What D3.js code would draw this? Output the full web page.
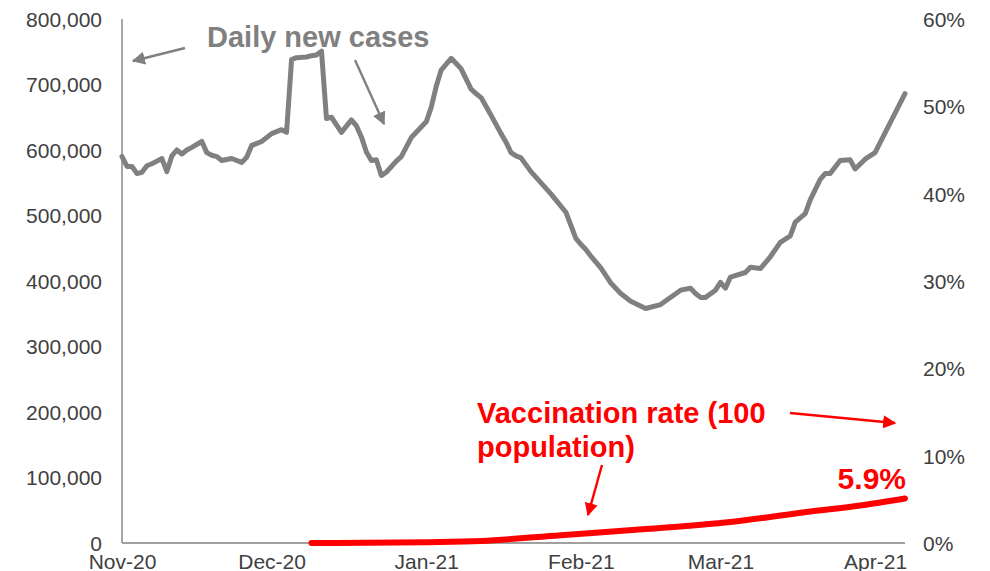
<!DOCTYPE html>
<html lang="en">
<head>
<meta charset="UTF-8">
<title>Daily new cases vs vaccination rate</title>
<style>
    body { margin: 0; background: #fff; }
    svg { display: block; font-family: "Liberation Sans", Arial, sans-serif; }
    .tick-label { font-size: 21px; fill: #404040; }
    .axis-line { stroke: #808080; stroke-width: 1.4px; }
</style>
</head>
<body>
<div id="chart"></div>
<script src="https://d3js.org/d3.v7.min.js"></script>
<script>
// daily new cases (world)
const caseDates = [
    "2020-11-01", "2020-11-02", "2020-11-03", "2020-11-04", "2020-11-05", "2020-11-06", "2020-11-07",
    "2020-11-08", "2020-11-09", "2020-11-10", "2020-11-11", "2020-11-12", "2020-11-13", "2020-11-14",
    "2020-11-15", "2020-11-17", "2020-11-18", "2020-11-19", "2020-11-20", "2020-11-21", "2020-11-23",
    "2020-11-25", "2020-11-26", "2020-11-27", "2020-11-29", "2020-12-01", "2020-12-03", "2020-12-04",
    "2020-12-05", "2020-12-06", "2020-12-08", "2020-12-09", "2020-12-10", "2020-12-11", "2020-12-12",
    "2020-12-13", "2020-12-15", "2020-12-17", "2020-12-18", "2020-12-19", "2020-12-20", "2020-12-21",
    "2020-12-22", "2020-12-23", "2020-12-24", "2020-12-26", "2020-12-27", "2020-12-29", "2020-12-31",
    "2021-01-01", "2021-01-02", "2021-01-03", "2021-01-04", "2021-01-06", "2021-01-08", "2021-01-10",
    "2021-01-11", "2021-01-12", "2021-01-14", "2021-01-16", "2021-01-17", "2021-01-18", "2021-01-19",
    "2021-01-20", "2021-01-22", "2021-01-26", "2021-01-29", "2021-01-31", "2021-02-01", "2021-02-02",
    "2021-02-03", "2021-02-05", "2021-02-07", "2021-02-09", "2021-02-11", "2021-02-14", "2021-02-17",
    "2021-02-21", "2021-02-23", "2021-02-24", "2021-02-25", "2021-02-26", "2021-02-28", "2021-03-01",
    "2021-03-02", "2021-03-03", "2021-03-06", "2021-03-07", "2021-03-09", "2021-03-11", "2021-03-13",
    "2021-03-15", "2021-03-16", "2021-03-18", "2021-03-19", "2021-03-21", "2021-03-22", "2021-03-23",
    "2021-03-25", "2021-03-27", "2021-03-28", "2021-03-30", "2021-04-01", "2021-04-03", "2021-04-07"
];
const caseValues = [
    590000, 575000, 575000, 564000, 566000, 576000, 579000,
    583000, 587000, 567000, 591000, 600000, 594000, 600000,
    604000, 613000, 596000, 592000, 590000, 584000, 587000,
    581000, 589000, 607000, 613000, 625000, 631000, 627000,
    738000, 741000, 742000, 744000, 745000, 751000, 648000,
    650000, 627000, 646000, 637000, 620000, 597000, 584000,
    585000, 561000, 566000, 583000, 590000, 619000, 635000,
    643000, 665000, 697000, 722000, 740000, 724000, 693000,
    686000, 680000, 653000, 625000, 612000, 596000, 591000,
    588000, 567000, 533000, 505000, 465000, 456000, 448000,
    438000, 420000, 397000, 381000, 369000, 358000, 364000,
    386000, 389000, 381000, 375000, 375000, 386000, 398000,
    389000, 406000, 413000, 421000, 419000, 437000, 459000,
    469000, 490000, 503000, 524000, 555000, 564000, 564000,
    584000, 585000, 571000, 586000, 596000, 626000, 686000
];

// vaccination rate, % of population
const vaccDates = ["2020-12-09", "2020-12-20", "2021-01-01", "2021-01-12", "2021-01-28",
    "2021-02-14", "2021-03-03", "2021-03-19", "2021-03-29", "2021-04-07"];
const vaccValues = [0, 0.0003, 0.001, 0.0023, 0.009, 0.016, 0.024, 0.036, 0.043, 0.051];

const leftTicks = [0, 100000, 200000, 300000, 400000, 500000, 600000, 700000, 800000];
const rightTicks = [0, 0.1, 0.2, 0.3, 0.4, 0.5, 0.6];
const monthTicks = ["2020-11-01", "2020-12-01", "2021-01-01", "2021-02-01", "2021-03-01", "2021-04-01"];

const parse = d3.timeParse("%Y-%m-%d");
const width = 990, height = 571;

const svg = d3.select("#chart").append("svg")
    .attr("width", width)
    .attr("height", height);

const x = d3.scaleTime()
    .domain([parse("2020-11-01"), parse("2021-04-07")])
    .range([122, 905]);
const yLeft = d3.scaleLinear().domain([0, 800000]).range([543, 19]);
const yRight = d3.scaleLinear().domain([0, 0.6]).range([543, 19]);

// axes
const leftAxis = d3.axisLeft(yLeft).tickValues(leftTicks).tickSize(0).tickPadding(20)
    .tickFormat(d3.format(","));
const gl = svg.append("g").attr("transform", "translate(122,0)").call(leftAxis);
gl.select(".domain").remove();
gl.selectAll("text").attr("class", "tick-label").attr("dy", "0.35em");

const rightAxis = d3.axisRight(yRight).tickValues(rightTicks).tickSize(0).tickPadding(18)
    .tickFormat(d3.format(".0%"));
const gr = svg.append("g").attr("transform", "translate(905,0)").call(rightAxis);
gr.select(".domain").remove();
gr.selectAll("text").attr("class", "tick-label").attr("dy", "0.35em");

const bottomAxis = d3.axisBottom(x).tickValues(monthTicks.map(parse)).tickSize(0).tickPadding(9)
    .tickFormat(d3.timeFormat("%b-%y"));
const gb = svg.append("g").attr("transform", "translate(0,543)").call(bottomAxis);
gb.select(".domain").remove();
gb.selectAll("text").attr("class", "tick-label").attr("dy", "0.8em");

svg.append("line").attr("class", "axis-line")
    .attr("x1", 122).attr("x2", 122).attr("y1", 19).attr("y2", 543);
svg.append("line").attr("class", "axis-line")
    .attr("x1", 122).attr("x2", 905).attr("y1", 543).attr("y2", 543);

// series
const cases = caseDates.map((d, i) => ({ date: parse(d), value: caseValues[i] }));
const vacc = vaccDates.map((d, i) => ({ date: parse(d), value: vaccValues[i] }));

svg.append("path")
    .datum(cases)
    .attr("fill", "none")
    .attr("stroke", "#808080")
    .attr("stroke-width", 5)
    .attr("stroke-linejoin", "round")
    .attr("stroke-linecap", "round")
    .attr("d", d3.line().x(d => x(d.date)).y(d => yLeft(d.value)));

svg.append("path")
    .datum(vacc)
    .attr("fill", "none")
    .attr("stroke", "#ff0000")
    .attr("stroke-width", 6)
    .attr("stroke-linecap", "round")
    .attr("d", d3.line().curve(d3.curveMonotoneX).x(d => x(d.date)).y(d => yRight(d.value)));

// annotations
const defs = svg.append("defs");
function marker(id, color) {
    defs.append("marker")
        .attr("id", id)
        .attr("viewBox", "0 0 10 10")
        .attr("refX", 9).attr("refY", 5)
        .attr("markerWidth", 5.5).attr("markerHeight", 5.5)
        .attr("markerUnits", "strokeWidth")
        .attr("orient", "auto")
        .append("path").attr("d", "M0,0 L10,5 L0,10 Z").attr("fill", color);
}
marker("arrowGray", "#808080");
marker("arrowRed", "#ff0000");

function arrow(x1, y1, x2, y2, color, id) {
    svg.append("line")
        .attr("x1", x1).attr("y1", y1).attr("x2", x2).attr("y2", y2)
        .attr("stroke", color).attr("stroke-width", 2.4)
        .attr("marker-end", "url(#" + id + ")");
}

svg.append("text")
    .attr("x", 207).attr("y", 47)
    .attr("font-size", 29).attr("font-weight", "bold").attr("fill", "#808080")
    .text("Daily new cases");
arrow(185, 48, 133, 61, "#808080", "arrowGray");
arrow(355, 60, 384, 124, "#808080", "arrowGray");

const vLabel = svg.append("text")
    .attr("x", 477).attr("y", 423)
    .attr("font-size", 29).attr("font-weight", "bold").attr("fill", "#ff0000");
vLabel.append("tspan").attr("x", 477).text("Vaccination rate (100");
vLabel.append("tspan").attr("x", 477).attr("dy", 34).text("population)");
arrow(790, 413, 895, 423, "#ff0000", "arrowRed");
arrow(602, 465, 588, 515, "#ff0000", "arrowRed");

svg.append("text")
    .attr("x", 906).attr("y", 489)
    .attr("text-anchor", "end")
    .attr("font-size", 30).attr("font-weight", "bold").attr("fill", "#ff0000")
    .text("5.9%");
</script>
</body>
</html>
